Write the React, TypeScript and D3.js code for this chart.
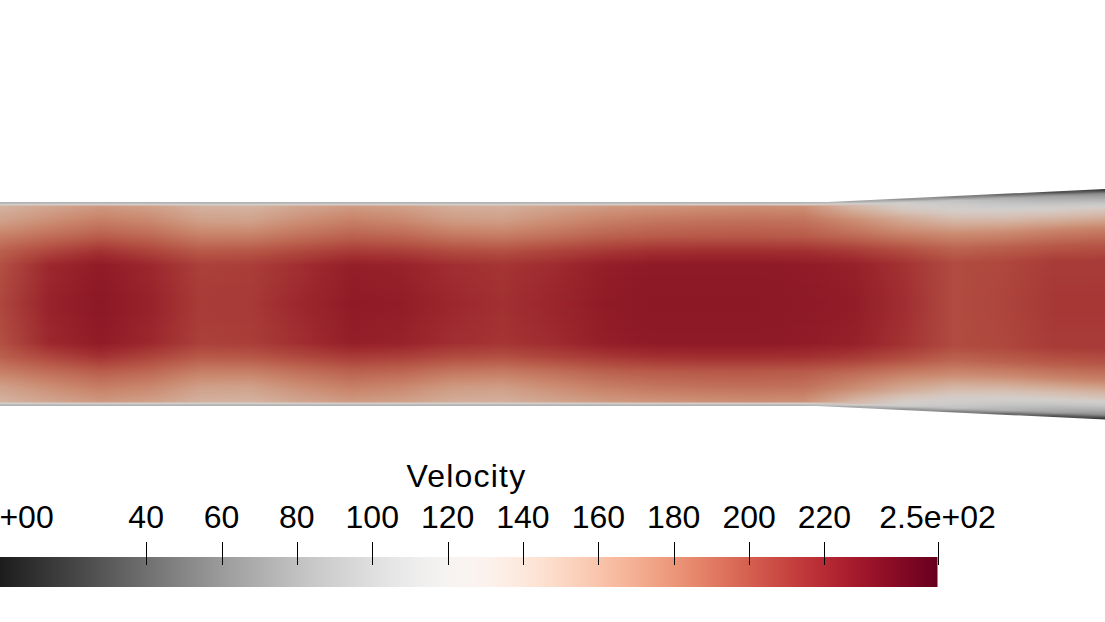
import React, { useEffect, useRef } from "react";
import * as d3 from "d3";

// axial stations along the channel (mm)
const stations = [0, 5, 10, 15, 20, 25, 30, 35, 40, 45, 50, 55, 60, 65, 70, 75, 80, 85, 90, 95, 100, 105, 110];

// radial sample positions, fraction of the local half-height (0 = centreline)
const radii = [0, 0.38, 0.52, 0.66, 0.82, 0.96, 0.99];

// velocity at each station, one array per radial position
const centerVel = [204, 221, 227, 221, 209, 210, 218, 225, 224, 218, 214, 219, 225, 227, 227, 227, 226, 224, 215, 202, 205, 211, 211];
const innerVel = [200, 218, 225, 218, 207, 208, 215, 223, 221, 215, 212, 216, 223, 226, 226, 226, 225, 222, 213, 202, 204, 209, 209];
const midVel = [193, 204, 213, 205, 196, 197, 203, 209, 207, 202, 200, 205, 210, 214, 215, 215, 214, 209, 200, 191, 193, 196, 197];
const outerVel = [180, 188, 195, 190, 180, 180, 187, 193, 191, 184, 182, 187, 193, 196, 197, 197, 196, 189, 179, 172, 172, 176, 178];
const bandVel = [162, 172, 180, 175, 163, 162, 172, 179, 175, 166, 164, 172, 179, 183, 185, 186, 185, 172, 155, 140, 136, 136, 138];
const nearWallVel = [152, 160, 167, 163, 153, 152, 160, 166, 163, 155, 154, 160, 166, 169, 171, 172, 171, 146, 120, 106, 92, 78, 66];
const wallVel = [92, 92, 92, 92, 92, 92, 92, 92, 92, 92, 92, 92, 92, 92, 92, 92, 92, 84, 70, 58, 45, 32, 20];

// channel outline: [axial mm, wall position mm]
const topWall = [[0, 10.15], [82.4, 10.15], [110, 11.45]];
const bottomWall = [[0, -10.15], [81.3, -10.15], [110, -11.5]];

// colour bar
const velocityRange = [0, 250];
const tickValues = [0, 40, 60, 80, 100, 120, 140, 160, 180, 200, 220, 250];
const tickLabels = ["0.0e+00", "40", "60", "80", "100", "120", "140", "160", "180", "200", "220", "2.5e+02"];
const barTitle = "Velocity";

const W = 1105;
const H = 622;
const FONT = "'Liberation Sans', Arial, sans-serif";

const App = () => {
  const ref = useRef<SVGSVGElement>(null);

  useEffect(() => {
    const svg = d3.select(ref.current);
    svg.selectAll("*").remove();

    const x = d3.scaleLinear().domain([0, 110]).range([0, W]);
    const y = d3.scaleLinear().domain([12, -12]).range([304 - 120.54, 304 + 120.54]);
    const topAt = d3.scaleLinear().domain(topWall.map(d => d[0])).range(topWall.map(d => d[1])).clamp(true);
    const botAt = d3.scaleLinear().domain(bottomWall.map(d => d[0])).range(bottomWall.map(d => d[1])).clamp(true);

    const cmap = d3.scaleSequential((t: number) => d3.interpolateRdGy(1 - t)).domain(velocityRange);
    // surface shading of the 3D render
    const shade = (v: number) => d3.interpolateRgb(cmap(v), "#000")(0.16);

    const rows = [centerVel, innerVel, midVel, outerVel, bandVel, nearWallVel, wallVel];
    // radial profile at each station
    const profiles = stations.map((s, i) =>
      d3.scaleLinear().domain(radii).range(rows.map(r => r[i])).clamp(true)
    );

    const defs = svg.append("defs");

    // channel outline as clip
    const outline: [number, number][] = [
      [-20, y(topWall[0][1])],
      ...topWall.map(d => [x(d[0]), y(d[1])] as [number, number]),
      [W + 20, y(topWall[topWall.length - 1][1])],
      [W + 20, y(bottomWall[bottomWall.length - 1][1])],
      ...bottomWall.slice().reverse().map(d => [x(d[0]), y(d[1])] as [number, number]),
      [-20, y(bottomWall[0][1])],
    ];
    defs.append("clipPath").attr("id", "channel")
      .append("path").attr("d", d3.line()(outline) + "Z");

    // field: one horizontal strip per pixel row, shaded through the stations
    const yTop = Math.floor(y(12));
    const yBot = Math.ceil(y(-12));
    const strips = d3.range(yTop, yBot);
    strips.forEach(py => {
      const yd = y.invert(py + 0.5);
      const g = defs.append("linearGradient").attr("id", `row${py}`)
        .attr("gradientUnits", "userSpaceOnUse")
        .attr("x1", 0).attr("x2", W).attr("y1", 0).attr("y2", 0);
      stations.forEach((s, i) => {
        const t = topAt(s), b = botAt(s);
        const r = Math.abs(yd - (t + b) / 2) / ((t - b) / 2);
        g.append("stop").attr("offset", x(s) / W).attr("stop-color", shade(profiles[i](r)));
      });
    });

    svg.append("g").attr("clip-path", "url(#channel)")
      .selectAll("rect")
      .data(strips)
      .enter().append("rect")
      .attr("x", 0).attr("width", W)
      .attr("y", d => d).attr("height", 1)
      .attr("shape-rendering", "crispEdges")
      .attr("fill", d => `url(#row${d})`);

    // colour bar
    const cb = d3.scaleLinear().domain(velocityRange).range([-4.6, 937.5]);
    const barGrad = defs.append("linearGradient").attr("id", "bar")
      .attr("gradientUnits", "userSpaceOnUse")
      .attr("x1", cb(velocityRange[0])).attr("x2", cb(velocityRange[1]))
      .attr("y1", 0).attr("y2", 0);
    d3.range(0, 1.0001, 0.025).forEach(t => {
      barGrad.append("stop").attr("offset", t).attr("stop-color", cmap(velocityRange[0] + t * (velocityRange[1] - velocityRange[0])));
    });
    svg.append("rect")
      .attr("x", cb(velocityRange[0])).attr("width", cb(velocityRange[1]) - cb(velocityRange[0]))
      .attr("y", 557).attr("height", 30)
      .attr("fill", "url(#bar)");

    const ticks = svg.append("g");
    ticks.selectAll("line")
      .data(tickValues)
      .enter().append("line")
      .attr("x1", d => Math.round(cb(d)) + 0.5).attr("x2", d => Math.round(cb(d)) + 0.5)
      .attr("y1", 542).attr("y2", 565)
      .attr("stroke", "#000").attr("stroke-width", 1);
    ticks.selectAll("text")
      .data(tickValues)
      .enter().append("text")
      .attr("x", d => cb(d))
      .attr("y", 528)
      .attr("text-anchor", "middle")
      .attr("font-family", FONT)
      .attr("font-size", 32)
      .attr("fill", "#000")
      .text((d, i) => tickLabels[i]);

    svg.append("text")
      .attr("x", (cb(velocityRange[0]) + cb(velocityRange[1])) / 2)
      .attr("y", 487)
      .attr("text-anchor", "middle")
      .attr("font-family", FONT)
      .attr("font-size", 32)
      .attr("letter-spacing", 1.2)
      .attr("fill", "#000")
      .text(barTitle);
  }, []);

  return (
    <svg
      ref={ref}
      width={W}
      height={H}
      style={{ position: "absolute", left: 0, top: 0, background: "#fff" }}
    />
  );
};

export default App;
